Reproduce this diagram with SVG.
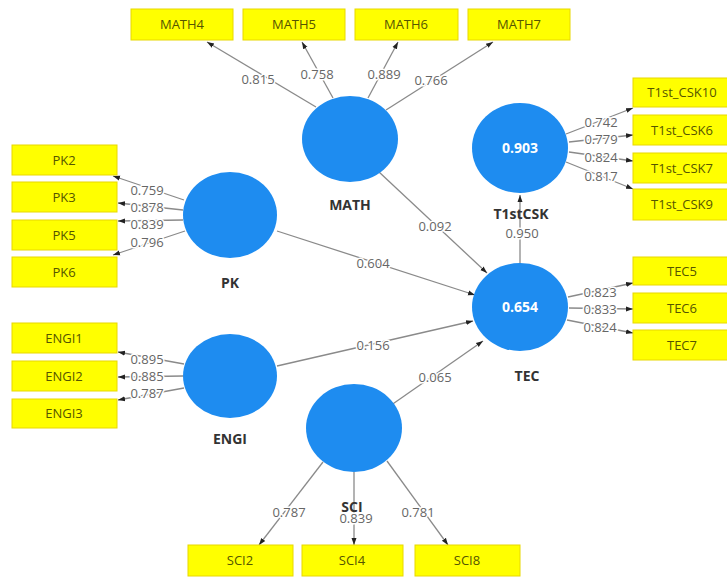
<svg xmlns="http://www.w3.org/2000/svg" width="727" height="577" viewBox="0 0 727 577">
<defs>
<marker id="ah" markerWidth="8" markerHeight="8" refX="7" refY="4" orient="auto" markerUnits="userSpaceOnUse">
<path d="M0,1.5 L7,4 L0,6.5 Z" fill="#222"/>
</marker>
</defs>
<style>
.ind rect{fill:#ffff00;stroke:#e8d800;stroke-width:1}
.ind text{font-family:"Open Sans","DejaVu Sans",sans-serif;font-size:13px;fill:#555500;text-anchor:middle}
.lv ellipse{fill:#1e8cf0}
.lv text.r{font-family:"Open Sans","DejaVu Sans",sans-serif;font-size:14px;font-weight:bold;fill:#ffffff;text-anchor:middle}
.nl{font-family:"Open Sans","DejaVu Sans",sans-serif;font-size:14px;font-weight:bold;fill:#333;text-anchor:middle}
#connectors line{stroke:#8a8a8a;stroke-width:1.3;marker-end:url(#ah)}
.w{font-family:"Open Sans","DejaVu Sans",sans-serif;font-size:13px;fill:#666;text-anchor:middle;stroke:#fff;stroke-width:3;paint-order:stroke;stroke-linejoin:round}
</style>
<rect width="727" height="577" fill="#fff"/>

<g id="connectors">
<line x1="316" y1="107" x2="207" y2="42"/>
<line x1="333" y1="98" x2="302" y2="42"/>
<line x1="368" y1="98" x2="398" y2="42"/>
<line x1="386" y1="110" x2="493" y2="42"/>
<line x1="566" y1="134" x2="633" y2="108"/>
<line x1="569" y1="142" x2="633" y2="135"/>
<line x1="569" y1="152" x2="633" y2="161"/>
<line x1="566" y1="162" x2="633" y2="189"/>
<line x1="184" y1="200" x2="113" y2="176"/>
<line x1="183" y1="210" x2="118" y2="203"/>
<line x1="183" y1="220" x2="118" y2="221"/>
<line x1="185" y1="231" x2="113" y2="255"/>
<line x1="184" y1="364" x2="118" y2="352"/>
<line x1="183" y1="376" x2="118" y2="377"/>
<line x1="184" y1="388" x2="118" y2="400"/>
<line x1="323" y1="462" x2="259" y2="545"/>
<line x1="354" y1="472" x2="354" y2="545"/>
<line x1="387" y1="461" x2="448" y2="545"/>
<line x1="568" y1="297" x2="633" y2="283"/>
<line x1="569" y1="308" x2="633" y2="309"/>
<line x1="567" y1="320" x2="633" y2="333"/>
<line x1="379" y1="172" x2="487" y2="273"/>
<line x1="277" y1="231" x2="475" y2="295"/>
<line x1="277" y1="366" x2="473" y2="321"/>
<line x1="387" y1="408" x2="483" y2="341"/>
<line x1="520" y1="264" x2="520" y2="195"/>
</g>

<g id="loadings">
<text class="w" x="258" y="84">0.815</text>
<text class="w" x="317" y="79">0.758</text>
<text class="w" x="384" y="79">0.889</text>
<text class="w" x="431" y="85">0.766</text>
<text class="w" x="601" y="127">0.742</text>
<text class="w" x="601" y="144">0.779</text>
<text class="w" x="601" y="162">0.824</text>
<text class="w" x="601" y="181">0.817</text>
<text class="w" x="147" y="195">0.759</text>
<text class="w" x="147" y="212">0.878</text>
<text class="w" x="147" y="229">0.839</text>
<text class="w" x="147" y="247">0.796</text>
<text class="w" x="147" y="364">0.895</text>
<text class="w" x="147" y="381">0.885</text>
<text class="w" x="147" y="398">0.787</text>
<text class="w" x="289" y="517">0.787</text>
<text class="w" x="356" y="523">0.839</text>
<text class="w" x="418" y="517">0.781</text>
<text class="w" x="600" y="297">0.823</text>
<text class="w" x="600" y="314">0.833</text>
<text class="w" x="600" y="332">0.824</text>
<text class="w" x="435" y="231">0.092</text>
<text class="w" x="373" y="268">0.604</text>
<text class="w" x="373" y="350">0.156</text>
<text class="w" x="435" y="382">0.065</text>
<text class="w" x="522" y="238">0.950</text>
</g>

<g id="MATH" class="lv"><ellipse cx="350" cy="139" rx="48" ry="43"/><text class="nl" x="350" y="210">MATH</text></g>
<g id="T1stCSK" class="lv"><ellipse cx="520" cy="148" rx="48" ry="45"/><text class="r" x="520" y="153">0.903</text><text class="nl" x="521" y="219">T1stCSK</text></g>
<g id="PK" class="lv"><ellipse cx="230" cy="215" rx="47" ry="43"/><text class="nl" x="230" y="288">PK</text></g>
<g id="TEC" class="lv"><ellipse cx="520" cy="307" rx="48" ry="44"/><text class="r" x="520" y="312">0.654</text><text class="nl" x="527" y="381">TEC</text></g>
<g id="ENGI" class="lv"><ellipse cx="230" cy="376" rx="47" ry="42"/><text class="nl" x="230" y="444">ENGI</text></g>
<g id="SCI" class="lv"><ellipse cx="354" cy="428" rx="48" ry="44"/><text class="nl" x="352" y="512">SCI</text></g>

<g id="MATH4" class="ind"><rect x="131" y="9" width="102" height="31"/><text x="182" y="29">MATH4</text></g>
<g id="MATH5" class="ind"><rect x="243" y="9" width="102" height="31"/><text x="294" y="29">MATH5</text></g>
<g id="MATH6" class="ind"><rect x="355" y="9" width="103" height="31"/><text x="406" y="29">MATH6</text></g>
<g id="MATH7" class="ind"><rect x="468" y="9" width="102" height="31"/><text x="519" y="29">MATH7</text></g>
<g id="T1st_CSK10" class="ind"><rect x="633" y="78" width="100" height="29"/><text x="682" y="97">T1st_CSK10</text></g>
<g id="T1st_CSK6" class="ind"><rect x="633" y="115" width="100" height="30"/><text x="682" y="135">T1st_CSK6</text></g>
<g id="T1st_CSK7" class="ind"><rect x="633" y="153" width="100" height="30"/><text x="682" y="173">T1st_CSK7</text></g>
<g id="T1st_CSK9" class="ind"><rect x="633" y="189" width="100" height="31"/><text x="682" y="209">T1st_CSK9</text></g>
<g id="PK2" class="ind"><rect x="12" y="145" width="105" height="30"/><text x="64" y="165">PK2</text></g>
<g id="PK3" class="ind"><rect x="12" y="182" width="105" height="30"/><text x="64" y="202">PK3</text></g>
<g id="PK5" class="ind"><rect x="12" y="220" width="105" height="30"/><text x="64" y="240">PK5</text></g>
<g id="PK6" class="ind"><rect x="12" y="257" width="105" height="30"/><text x="64" y="277">PK6</text></g>
<g id="ENGI1" class="ind"><rect x="12" y="323" width="105" height="30"/><text x="64" y="343">ENGI1</text></g>
<g id="ENGI2" class="ind"><rect x="12" y="361" width="105" height="30"/><text x="64" y="381">ENGI2</text></g>
<g id="ENGI3" class="ind"><rect x="12" y="399" width="105" height="29"/><text x="64" y="418">ENGI3</text></g>
<g id="SCI2" class="ind"><rect x="188" y="545" width="105" height="31"/><text x="240" y="565">SCI2</text></g>
<g id="SCI4" class="ind"><rect x="302" y="545" width="101" height="31"/><text x="352" y="565">SCI4</text></g>
<g id="SCI8" class="ind"><rect x="415" y="545" width="105" height="31"/><text x="467" y="565">SCI8</text></g>
<g id="TEC5" class="ind"><rect x="633" y="257" width="100" height="28"/><text x="682" y="276">TEC5</text></g>
<g id="TEC6" class="ind"><rect x="633" y="293" width="100" height="30"/><text x="682" y="313">TEC6</text></g>
<g id="TEC7" class="ind"><rect x="633" y="330" width="100" height="30"/><text x="682" y="350">TEC7</text></g>
</svg>
